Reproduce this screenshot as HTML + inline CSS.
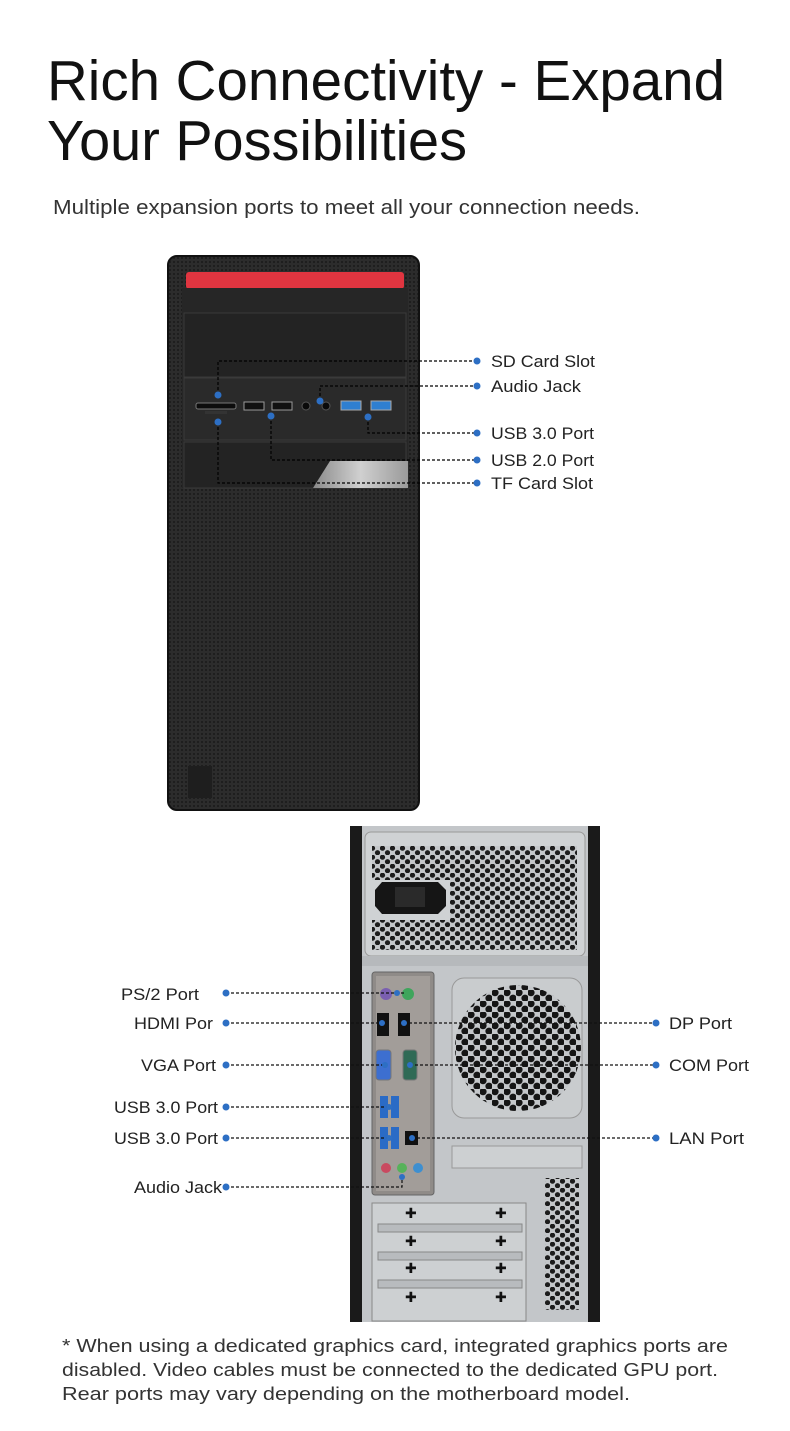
<!DOCTYPE html>
<html><head><meta charset="utf-8"><style>
html,body{margin:0;padding:0;background:#fff;}
body{width:790px;height:1431px;overflow:hidden;position:relative;font-family:"Liberation Sans",sans-serif;}
svg{position:absolute;left:0;top:0;}
</style></head><body>
<svg width="790" height="1431" viewBox="0 0 790 1431" xmlns="http://www.w3.org/2000/svg">
<defs>
<pattern id="mesh" width="4" height="4" patternUnits="userSpaceOnUse"><rect width="4" height="4" fill="#2c2c2c"/><circle cx="2" cy="2" r="1" fill="#1a1a1a"/></pattern>
<pattern id="hex" width="10" height="9" patternUnits="userSpaceOnUse"><rect width="10" height="9" fill="#c4c7ca"/><circle cx="2.5" cy="2.2" r="2.6" fill="#1c1c1c"/><circle cx="7.5" cy="6.7" r="2.6" fill="#1c1c1c"/></pattern>
<pattern id="hex2" width="12" height="11" patternUnits="userSpaceOnUse"><rect width="12" height="11" fill="#c4c7ca"/><circle cx="3" cy="2.7" r="3.6" fill="#151515"/><circle cx="9" cy="8.2" r="3.6" fill="#151515"/></pattern>
<linearGradient id="silver" x1="0" x2="1"><stop offset="0" stop-color="#8a8a8a"/><stop offset="0.5" stop-color="#d0d0d0"/><stop offset="1" stop-color="#9a9a9a"/></linearGradient>
</defs>

<text x="47" y="100" font-size="57" fill="#111" textLength="678" lengthAdjust="spacingAndGlyphs">Rich Connectivity - Expand</text>
<text x="47" y="160" font-size="57" fill="#111" textLength="420" lengthAdjust="spacingAndGlyphs">Your Possibilities</text>
<text x="53" y="214" font-size="20" fill="#333" textLength="587" lengthAdjust="spacingAndGlyphs">Multiple expansion ports to meet all your connection needs.</text>

<!-- Front case -->
<rect x="168" y="256" width="251" height="554" rx="9" fill="url(#mesh)"/>
<rect x="168" y="256" width="251" height="554" rx="9" fill="none" stroke="#111" stroke-width="2"/>
<rect x="186" y="272" width="218" height="17" rx="3" fill="#e03540"/>
<rect x="182" y="288" width="226" height="200" fill="#262626"/>
<rect x="184" y="313" width="222" height="64" fill="#232323" stroke="#3a3a3a" stroke-width="1"/>
<rect x="184" y="378" width="222" height="62" fill="#2a2a2a" stroke="#3a3a3a" stroke-width="1"/>
<rect x="184" y="442" width="222" height="46" fill="#232323" stroke="#3a3a3a" stroke-width="1"/>
<polygon points="330,461 408,461 408,488 313,488" fill="url(#silver)"/>
<rect x="188" y="766" width="24" height="32" fill="#1e1e1e"/>
<!-- front ports -->
<rect x="196" y="403" width="40" height="6" rx="2" fill="#0c0c0c" stroke="#777" stroke-width="1"/>
<rect x="205" y="411" width="22" height="3" fill="#333"/>
<rect x="244" y="402" width="20" height="8" fill="#111" stroke="#999" stroke-width="1"/>
<rect x="272" y="402" width="20" height="8" fill="#111" stroke="#999" stroke-width="1"/>
<circle cx="306" cy="406" r="4" fill="#0a0a0a" stroke="#555"/>
<circle cx="326" cy="406" r="4" fill="#0a0a0a" stroke="#555"/>
<rect x="341" y="401" width="20" height="9" fill="#2f7fd0" stroke="#aaa" stroke-width="1"/>
<rect x="371" y="401" width="20" height="9" fill="#2f7fd0" stroke="#aaa" stroke-width="1"/>

<g stroke="#000" stroke-width="1.2" stroke-dasharray="3,2" fill="none">
<polyline points="218,395 218,361 477,361"/>
<polyline points="320,401 320,386 477,386"/>
<polyline points="368,417 368,433 477,433"/>
<polyline points="271,416 271,460 477,460"/>
<polyline points="218,422 218,483 477,483"/>
</g>
<g fill="#2d6fc4">
<circle cx="218" cy="395" r="3.5"/><circle cx="320" cy="401" r="3.5"/><circle cx="368" cy="417" r="3.5"/><circle cx="271" cy="416" r="3.5"/><circle cx="218" cy="422" r="3.5"/>
<circle cx="477" cy="361" r="3.5"/><circle cx="477" cy="386" r="3.5"/><circle cx="477" cy="433" r="3.5"/><circle cx="477" cy="460" r="3.5"/><circle cx="477" cy="483" r="3.5"/>
</g>
<g font-size="17" fill="#222">
<text x="491" y="367" textLength="104" lengthAdjust="spacingAndGlyphs">SD Card Slot</text>
<text x="491" y="392" textLength="90" lengthAdjust="spacingAndGlyphs">Audio Jack</text>
<text x="491" y="439" textLength="103" lengthAdjust="spacingAndGlyphs">USB 3.0 Port</text>
<text x="491" y="466" textLength="103" lengthAdjust="spacingAndGlyphs">USB 2.0 Port</text>
<text x="491" y="489" textLength="102" lengthAdjust="spacingAndGlyphs">TF Card Slot</text>
</g>

<!-- Rear case -->
<rect x="350" y="826" width="250" height="496" fill="#c3c6c9"/>
<rect x="350" y="826" width="12" height="496" fill="#1a1a1a"/>
<rect x="588" y="826" width="12" height="496" fill="#1a1a1a"/>
<rect x="365" y="832" width="220" height="124" rx="6" fill="#cfd2d4" stroke="#999"/>
<rect x="372" y="846" width="205" height="104" fill="url(#hex)"/>
<rect x="370" y="880" width="80" height="40" fill="#cfd2d4"/>
<polygon points="375,890 382,882 438,882 446,890 446,906 438,914 382,914 375,906" fill="#151515"/>
<rect x="395" y="887" width="30" height="20" fill="#2a2a2a"/>
<rect x="362" y="956" width="226" height="10" fill="#b6b9bc"/>
<!-- io shield -->
<rect x="372" y="972" width="62" height="223" rx="3" fill="#8f8b88" stroke="#666"/>
<rect x="376" y="976" width="54" height="215" fill="#a29d99"/>
<circle cx="386" cy="994" r="6" fill="#7a5fb0"/><circle cx="408" cy="994" r="6" fill="#3fa55c"/>
<rect x="377" y="1013" width="12" height="23" fill="#111"/><rect x="398" y="1013" width="12" height="23" fill="#111"/>
<rect x="376" y="1050" width="15" height="30" rx="3" fill="#3d6fd0" stroke="#777"/>
<rect x="403" y="1050" width="14" height="30" rx="3" fill="#2f6a55" stroke="#777"/>
<rect x="380" y="1096" width="8" height="22" fill="#2a6bc6"/><rect x="391" y="1096" width="8" height="22" fill="#2a6bc6"/>
<rect x="380" y="1127" width="8" height="22" fill="#2a6bc6"/><rect x="391" y="1127" width="8" height="22" fill="#2a6bc6"/>
<rect x="405" y="1131" width="13" height="14" fill="#111"/>
<circle cx="386" cy="1168" r="5" fill="#c94a60"/><circle cx="402" cy="1168" r="5" fill="#57b25a"/><circle cx="418" cy="1168" r="5" fill="#3e8fd0"/>
<!-- fan -->
<rect x="452" y="978" width="130" height="140" rx="12" fill="#c9ccce" stroke="#999"/>
<circle cx="518" cy="1048" r="63" fill="url(#hex2)"/>
<rect x="452" y="1146" width="130" height="22" fill="#cdd0d2" stroke="#999"/>
<!-- slots -->
<rect x="372" y="1203" width="154" height="118" fill="#cdd0d2" stroke="#888"/>
<g fill="#b8bbbe" stroke="#888"><rect x="378" y="1224" width="144" height="8"/><rect x="378" y="1252" width="144" height="8"/><rect x="378" y="1280" width="144" height="8"/></g>
<g font-size="14" fill="#111"><text x="405" y="1218">✚</text><text x="495" y="1218">✚</text><text x="405" y="1246">✚</text><text x="495" y="1246">✚</text><text x="405" y="1273">✚</text><text x="495" y="1273">✚</text><text x="405" y="1302">✚</text><text x="495" y="1302">✚</text></g>
<rect x="545" y="1178" width="34" height="132" fill="url(#hex)"/>

<g stroke="#111" stroke-width="1.2" stroke-dasharray="3,2" fill="none">
<line x1="226" y1="993" x2="405" y2="993"/>
<line x1="226" y1="1023" x2="382" y2="1023"/>
<line x1="404" y1="1023" x2="656" y2="1023"/>
<line x1="226" y1="1065" x2="385" y2="1065"/>
<line x1="410" y1="1065" x2="656" y2="1065"/>
<line x1="226" y1="1107" x2="389" y2="1107"/>
<line x1="226" y1="1138" x2="389" y2="1138"/>
<line x1="412" y1="1138" x2="656" y2="1138"/>
<polyline points="226,1187 402,1187 402,1177"/>
</g>
<g fill="#2d6fc4">
<circle cx="226" cy="993" r="3.5"/><circle cx="226" cy="1023" r="3.5"/><circle cx="226" cy="1065" r="3.5"/><circle cx="226" cy="1107" r="3.5"/><circle cx="226" cy="1138" r="3.5"/><circle cx="226" cy="1187" r="3.5"/>
<circle cx="656" cy="1023" r="3.5"/><circle cx="656" cy="1065" r="3.5"/><circle cx="656" cy="1138" r="3.5"/>
<circle cx="397" cy="993" r="3"/><circle cx="382" cy="1023" r="3"/><circle cx="404" cy="1023" r="3"/><circle cx="385" cy="1065" r="3"/><circle cx="410" cy="1065" r="3"/><circle cx="389" cy="1107" r="3"/><circle cx="389" cy="1138" r="3"/><circle cx="412" cy="1138" r="3"/><circle cx="402" cy="1177" r="3"/>
</g>
<g font-size="17" fill="#222">
<text x="121" y="1000" textLength="78" lengthAdjust="spacingAndGlyphs">PS/2 Port</text>
<text x="134" y="1029" textLength="79" lengthAdjust="spacingAndGlyphs">HDMI Por</text>
<text x="141" y="1071" textLength="75" lengthAdjust="spacingAndGlyphs">VGA Port</text>
<text x="114" y="1113" textLength="104" lengthAdjust="spacingAndGlyphs">USB 3.0 Port</text>
<text x="114" y="1144" textLength="104" lengthAdjust="spacingAndGlyphs">USB 3.0 Port</text>
<text x="134" y="1193" textLength="88" lengthAdjust="spacingAndGlyphs">Audio Jack</text>
<text x="669" y="1029" textLength="63" lengthAdjust="spacingAndGlyphs">DP Port</text>
<text x="669" y="1071" textLength="80" lengthAdjust="spacingAndGlyphs">COM Port</text>
<text x="669" y="1144" textLength="75" lengthAdjust="spacingAndGlyphs">LAN Port</text>
</g>

<g font-size="18.5" fill="#333">
<text x="62" y="1352" textLength="666" lengthAdjust="spacingAndGlyphs">* When using a dedicated graphics card, integrated graphics ports are</text>
<text x="62" y="1376" textLength="656" lengthAdjust="spacingAndGlyphs">disabled. Video cables must be connected to the dedicated GPU port.</text>
<text x="62" y="1400" textLength="568" lengthAdjust="spacingAndGlyphs">Rear ports may vary depending on the motherboard model.</text>
</g>
</svg>
</body></html>
